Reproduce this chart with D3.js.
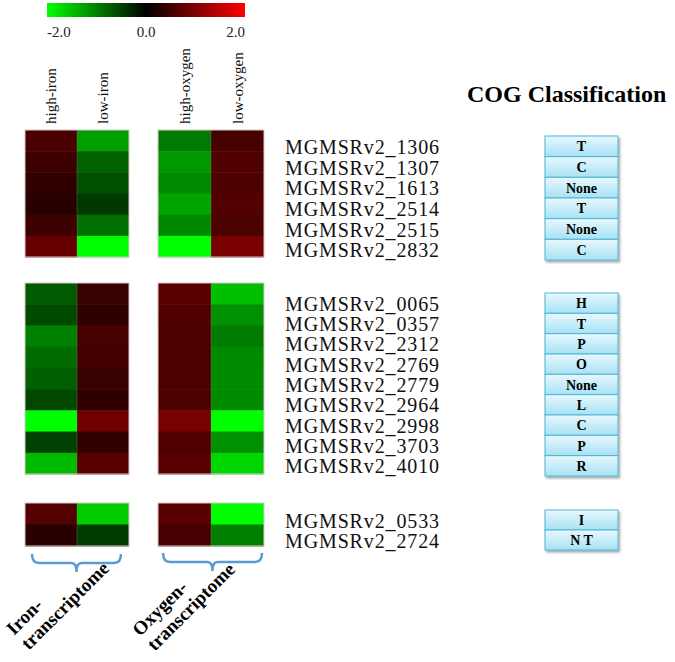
<!DOCTYPE html>
<html>
<head>
<meta charset="utf-8">
<script src="https://cdn.jsdelivr.net/npm/d3@7"></script>
<style>
	body { margin: 0; background: #fff; }
	text { font-family: "Liberation Serif", "Times New Roman", serif; }
</style>
</head>
<body>
<svg id="chart" width="675" height="662"></svg>
<script>
// gene ids, top to bottom
var genes = ["MGMSRv2_1306", "MGMSRv2_1307", "MGMSRv2_1613", "MGMSRv2_2514", "MGMSRv2_2515", "MGMSRv2_2832",
	"MGMSRv2_0065", "MGMSRv2_0357", "MGMSRv2_2312", "MGMSRv2_2769", "MGMSRv2_2779", "MGMSRv2_2964",
	"MGMSRv2_2998", "MGMSRv2_3703", "MGMSRv2_4010", "MGMSRv2_0533", "MGMSRv2_2724"];
// which cluster each gene sits in
var groups = [0, 0, 0, 0, 0, 0, 1, 1, 1, 1, 1, 1, 1, 1, 1, 2, 2];
var cogs = ["T", "C", "None", "T", "None", "C", "H", "T", "P", "O", "None", "L", "C", "P", "R", "I", "N T"];

var ironCols = ["high-iron", "low-iron"];
var oxyCols = ["high-oxygen", "low-oxygen"];

// log2 fold values
var highIron = [0.58, 0.47, 0.38, 0.31, 0.47, 0.8, -0.71, -0.58, -1.0, -0.85, -0.75, -0.56, -2.0, -0.5, -1.44, 0.64, 0.31];
var lowIron = [-1.25, -0.78, -0.63, -0.44, -0.88, -2.0, 0.44, 0.36, 0.56, 0.52, 0.45, 0.38, 0.88, 0.38, 0.69, -1.6, -0.47];
var highOxygen = [-0.96, -1.19, -1.08, -1.29, -1.07, -2.0, 0.69, 0.63, 0.6, 0.6, 0.6, 0.6, 0.94, 0.63, 0.69, 0.71, 0.56];
var lowOxygen = [0.56, 0.63, 0.61, 0.64, 0.6, 0.94, -1.5, -1.13, -0.96, -1.08, -1.08, -1.08, -2.0, -1.13, -1.69, -2.0, -1.0];

var legendTicks = [-2, 0, 2];

var svg = d3.select("#chart");
var defs = svg.append("defs");

var color = d3.scaleLinear().domain([-2, 0, 2]).range(["#00ff00", "#000000", "#ff0000"]);

// ---- colour legend
var lx = d3.scaleLinear().domain([-2, 2]).range([47, 245]);
var lg = defs.append("linearGradient").attr("id", "legGrad");
lg.selectAll("stop").data(d3.range(-2, 2.01, 0.5)).enter().append("stop")
	.attr("offset", function(d) { return ((d + 2) / 4 * 100) + "%"; })
	.attr("stop-color", function(d) { return color(d); });
svg.append("rect").attr("x", lx(-2)).attr("y", 3).attr("width", lx(2) - lx(-2)).attr("height", 14)
	.attr("fill", "url(#legGrad)");
svg.selectAll(".legTick").data(legendTicks).enter().append("text")
	.attr("x", function(d) { return lx(d); })
	.attr("y", 37)
	.attr("text-anchor", function(d) { return d < 0 ? "start" : (d > 0 ? "end" : "middle"); })
	.attr("font-size", 15)
	.attr("fill", "#222")
	.text(function(d) { return d.toFixed(1); });

// ---- layout of the three clusters
var heatY = [[130, 257], [283, 474], [503, 546]];
var cogY = [[136, 260], [293, 476], [510, 550]];
var xIron = d3.scaleBand().domain(ironCols).range([25, 129]);
var xOxy = d3.scaleBand().domain(oxyCols).range([158, 264]);
var xCog = [545, 618];

var rows = genes.map(function(g, i) {
	return { gene: g, group: groups[i], cog: cogs[i],
		vals: { "high-iron": highIron[i], "low-iron": lowIron[i], "high-oxygen": highOxygen[i], "low-oxygen": lowOxygen[i] } };
});

var heatScales = [], cogScales = [];
[0, 1, 2].forEach(function(gi) {
	var names = rows.filter(function(r) { return r.group === gi; }).map(function(r) { return r.gene; });
	heatScales.push(d3.scaleBand().domain(names).range(heatY[gi]));
	cogScales.push(d3.scaleBand().domain(names).range(cogY[gi]));
});

function drawBlock(xs, cols) {
	[0, 1, 2].forEach(function(gi) {
		var ys = heatScales[gi];
		var sub = rows.filter(function(r) { return r.group === gi; });
		var g = svg.append("g");
		cols.forEach(function(c) {
			g.selectAll(null).data(sub).enter().append("rect")
				.attr("x", xs(c))
				.attr("y", function(d) { return ys(d.gene); })
				.attr("width", xs.bandwidth())
				.attr("height", ys.bandwidth() + 0.5)
				.attr("fill", function(d) { return color(d.vals[c]); });
		});
		g.append("rect")
			.attr("x", xs.range()[0]).attr("y", ys.range()[0])
			.attr("width", xs.range()[1] - xs.range()[0]).attr("height", ys.range()[1] - ys.range()[0])
			.attr("fill", "none").attr("stroke", "#d8c8c8").attr("stroke-width", 1);
		g.append("line")
			.attr("x1", xs(cols[1])).attr("x2", xs(cols[1]))
			.attr("y1", ys.range()[0]).attr("y2", ys.range()[1])
			.attr("stroke", "#8a8a6a").attr("stroke-opacity", 0.35);
	});
}
drawBlock(xIron, ironCols);
drawBlock(xOxy, oxyCols);

// column headers
function colHeaders(xs, cols) {
	svg.selectAll(null).data(cols).enter().append("text")
		.attr("transform", function(d) { return "translate(" + (xs(d) + xs.bandwidth() / 2) + ",124) rotate(-90)"; })
		.attr("dy", "0.35em")
		.attr("font-size", 15)
		.attr("fill", "#111")
		.text(function(d) { return d; });
}
colHeaders(xIron, ironCols);
colHeaders(xOxy, oxyCols);

// gene labels
svg.selectAll(".gene").data(rows).enter().append("text")
	.attr("x", 285)
	.attr("y", function(d) { var s = cogScales[d.group]; return s(d.gene) + s.bandwidth() / 2; })
	.attr("dy", "0.38em")
	.attr("font-size", 20)
	.attr("textLength", 154)
	.attr("fill", "#111")
	.text(function(d) { return d.gene; });

// ---- COG boxes
var cg = defs.append("linearGradient").attr("id", "cogGrad").attr("x1", 0).attr("y1", 0).attr("x2", 0).attr("y2", 1);
cg.append("stop").attr("offset", "0%").attr("stop-color", "#e9f8fd");
cg.append("stop").attr("offset", "100%").attr("stop-color", "#a6e2f5");
var sh = defs.append("filter").attr("id", "shadow").attr("x", "-10%").attr("y", "-10%").attr("width", "130%").attr("height", "130%");
sh.append("feDropShadow").attr("dx", 1.5).attr("dy", 2).attr("stdDeviation", 1.2).attr("flood-color", "#000").attr("flood-opacity", 0.35);

svg.append("text").attr("x", 467).attr("y", 102)
	.attr("font-size", 24).attr("font-weight", "bold").attr("fill", "#000")
	.text("COG Classification");

[0, 1, 2].forEach(function(gi) {
	var ys = cogScales[gi];
	var sub = rows.filter(function(r) { return r.group === gi; });
	var g = svg.append("g").attr("filter", "url(#shadow)");
	g.selectAll("rect").data(sub).enter().append("rect")
		.attr("x", xCog[0])
		.attr("y", function(d) { return ys(d.gene); })
		.attr("width", xCog[1] - xCog[0])
		.attr("height", ys.bandwidth())
		.attr("fill", "url(#cogGrad)")
		.attr("stroke", "#4fb3d6")
		.attr("stroke-width", 1);
	svg.selectAll(null).data(sub).enter().append("text")
		.attr("x", (xCog[0] + xCog[1]) / 2)
		.attr("y", function(d) { return ys(d.gene) + ys.bandwidth() / 2; })
		.attr("dy", "0.36em")
		.attr("text-anchor", "middle")
		.attr("font-size", 14)
		.attr("font-weight", "bold")
		.attr("fill", "#000")
		.text(function(d) { return d.cog; });
});

// ---- braces and group names
function brace(x0, x1, yTop, yLine, yTip) {
	var cx = (x0 + x1) / 2;
	var p = d3.path();
	p.moveTo(x0, yTop);
	p.quadraticCurveTo(x0, yLine, x0 + 7, yLine);
	p.lineTo(cx - 5, yLine);
	p.quadraticCurveTo(cx, yLine, cx, yTip);
	p.quadraticCurveTo(cx, yLine, cx + 5, yLine);
	p.lineTo(x1 - 7, yLine);
	p.quadraticCurveTo(x1, yLine, x1, yTop);
	svg.append("path").attr("d", p.toString())
		.attr("fill", "none").attr("stroke", "#5b9bd5").attr("stroke-width", 2.5);
}
brace(32, 121, 554, 563, 572);
brace(163, 262, 553, 562, 571);

function groupName(x, y, lines) {
	var t = svg.append("text")
		.attr("transform", "translate(" + x + "," + y + ") rotate(-45)")
		.attr("font-size", 19).attr("font-weight", "bold").attr("fill", "#000");
	t.selectAll("tspan").data(lines).enter().append("tspan")
		.attr("x", 0)
		.attr("dy", function(d, i) { return i === 0 ? 0 : "1.1em"; })
		.text(function(d) { return d; });
}
groupName(14, 636, ["Iron-", "transcriptome"]);
groupName(140, 637, ["Oxygen-", "transcriptome"]);
</script>
</body>
</html>
